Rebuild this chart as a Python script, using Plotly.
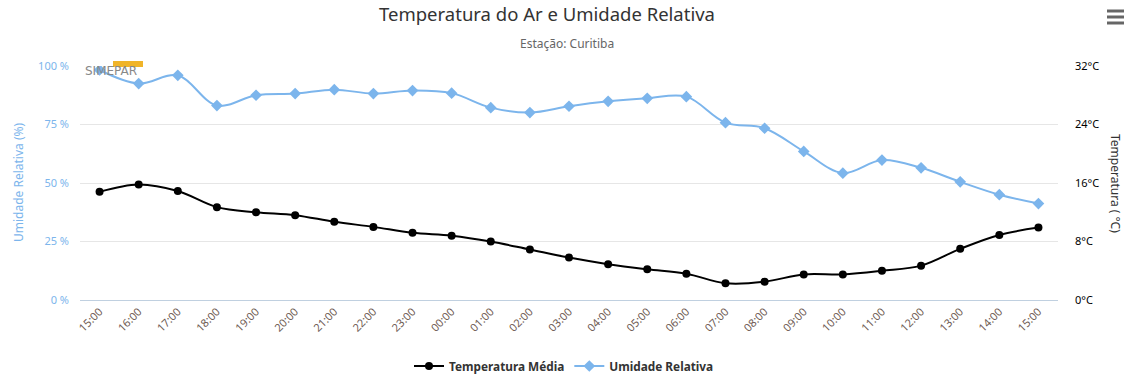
import plotly.graph_objects as go

hours = ["15:00", "16:00", "17:00", "18:00", "19:00", "20:00", "21:00", "22:00", "23:00",
         "00:00", "01:00", "02:00", "03:00", "04:00", "05:00", "06:00", "07:00", "08:00",
         "09:00", "10:00", "11:00", "12:00", "13:00", "14:00", "15:00"]
temperatura = [14.8, 15.8, 14.9, 12.7, 12.0, 11.6, 10.7, 10.0, 9.2, 8.8, 8.0, 6.9, 5.8,
               4.9, 4.2, 3.6, 2.3, 2.5, 3.5, 3.5, 4.0, 4.7, 7.0, 8.9, 9.9]
umidade = [98.3, 92.5, 96.0, 83.1, 87.5, 88.2, 89.9, 88.2, 89.5, 88.4, 82.2, 80.1, 82.8,
           84.9, 86.2, 86.9, 75.8, 73.4, 63.5, 54.2, 59.8, 56.5, 50.5, 45.0, 41.2]
hum_ticks = [0, 25, 50, 75, 100]
hum_labels = ["0 %", "25 %", "50 %", "75 %", "100 %"]
temp_ticks = [0, 8, 16, 24, 32]
temp_labels = ["0°C", "8°C", "16°C", "24°C", "32°C"]

FONT = "Noto Sans"
BLUE = "#7cb5ec"

fig = go.Figure()
fig.add_trace(go.Scatter(
    x=list(range(len(hours))), y=temperatura, name="Temperatura Média", yaxis="y2",
    mode="lines+markers", line=dict(color="#000000", width=2, shape="spline", smoothing=1.0),
    marker=dict(symbol="circle", size=8, color="#000000")))
fig.add_trace(go.Scatter(
    x=list(range(len(hours))), y=umidade, name="Umidade Relativa", yaxis="y",
    mode="lines+markers", line=dict(color=BLUE, width=2, shape="spline", smoothing=1.0),
    marker=dict(symbol="diamond", size=9, color=BLUE)))

fig.update_layout(
    width=1132, height=385,
    margin=dict(l=80, r=74, t=66, b=85, autoexpand=False),
    paper_bgcolor="white", plot_bgcolor="white",
    font=dict(family=FONT, size=11, color="#333333"),
    showlegend=True,
    legend=dict(orientation="h", x=0.5 - 5 / 978, xanchor="center",
                yref="container", y=(385 - 366) / 385, yanchor="middle",
                font=dict(family=FONT, size=11.8, color="#333333", weight="bold"),
                traceorder="normal", itemwidth=30, bgcolor="rgba(0,0,0,0)"),
    xaxis=dict(
        range=[-0.5, len(hours) - 0.5], tickmode="array",
        tickvals=list(range(len(hours))), ticktext=hours,
        tickangle=-45, tickfont=dict(family=FONT, size=11, color="#6e5a52"),
        showgrid=False, zeroline=False, showline=True, linecolor="#C0D0E0", linewidth=1,
        ticks="", automargin=False, fixedrange=True),
    yaxis=dict(
        range=[0, 100], tickmode="array", tickvals=hum_ticks, ticktext=hum_labels,
        tickfont=dict(family=FONT, size=11, color=BLUE),
        showgrid=True, gridcolor="#e6e6e6", gridwidth=1, zeroline=False,
        showline=False, ticks="", ticklabelstandoff=10, automargin=False, fixedrange=True),
    yaxis2=dict(
        range=[0, 32], overlaying="y", side="right", tickmode="array",
        tickvals=temp_ticks, ticktext=temp_labels,
        tickfont=dict(family=FONT, size=11, color="#000000"),
        showgrid=False, zeroline=False, showline=False, ticks="",
        ticklabelstandoff=16, automargin=False, fixedrange=True),
    title=dict(text="Temperatura do Ar e Umidade Relativa", x=547 / 1132, xanchor="center",
               y=1 - 15 / 385, yanchor="middle",
               font=dict(family=FONT, size=18.5, color="#333333")),
)

annotations = [
    dict(text="Estação: Curitiba", xref="paper", yref="paper", x=(567 - 80) / 978, y=(300 - 44) / 234,
         xanchor="center", yanchor="middle", showarrow=False,
         font=dict(family=FONT, size=12, color="#666666")),
    dict(text="Umidade Relativa (%)", xref="paper", yref="paper", x=(18 - 80) / 978,
         y=0.5, xanchor="center", yanchor="middle", textangle=-90, showarrow=False,
         font=dict(family=FONT, size=12, color=BLUE)),
    dict(text="Temperatura ( °C)", xref="paper", yref="paper", x=(1116 - 80) / 978,
         y=0.5, xanchor="center", yanchor="middle", textangle=90, showarrow=False,
         font=dict(family=FONT, size=12, color="#333333")),
    dict(text="SIMEPAR", xref="paper", yref="paper", x=(111 - 80) / 978, y=(300 - 71) / 234,
         xanchor="center", yanchor="middle", showarrow=False,
         font=dict(family="DejaVu Sans", size=12, color="#888888")),
]
fig.update_layout(annotations=annotations)

shapes = [
    dict(type="rect", xref="paper", yref="paper",
         x0=(113 - 80) / 978, x1=(143 - 80) / 978, y0=(300 - 67) / 234, y1=(300 - 61) / 234,
         fillcolor="#f0b429", line=dict(width=0), layer="below"),
]
for yy in (11, 17, 23):
    shapes.append(dict(type="line", xref="paper", yref="paper",
                       x0=(1107 - 80) / 978, x1=(1124 - 80) / 978,
                       y0=(300 - yy) / 234, y1=(300 - yy) / 234,
                       line=dict(color="#666666", width=3)))
fig.update_layout(shapes=shapes)

fig.write_html("out.html", config={"displayModeBar": False},
               post_script="document.body.style.margin='0';document.body.style.padding='0';")
